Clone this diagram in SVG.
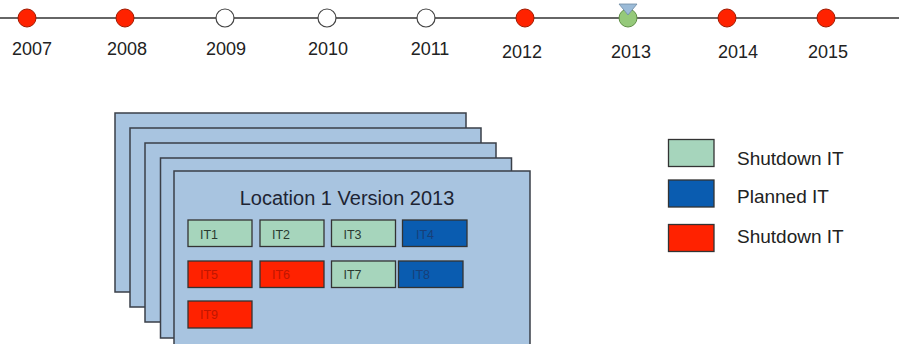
<svg xmlns="http://www.w3.org/2000/svg" width="899" height="344" viewBox="0 0 899 344">
<style>
text{font-family:"Liberation Sans",Arial,sans-serif}
.yr{font-size:18px;fill:#222;text-anchor:middle}
.red{fill:#ff2200;stroke:#a01a00;stroke-width:1}
.wht{fill:#fff;stroke:#444;stroke-width:1.2}
.sheet{fill:#a8c4e0;stroke:#3a3f48;stroke-width:1.5}
.box{stroke:#333;stroke-width:1.3}
.g{fill:#a6d5bc}
.b{fill:#0a5cb0}
.r{fill:#ff2200}
.it{font-size:12.5px}
.tg{fill:#2a3a30}
.tb{fill:#173f78}
.tr{fill:#c01600}
.leg{font-size:19px;fill:#222}
</style>
<rect width="899" height="344" fill="#fff"/>
<g id="connectors">
<line x1="0" y1="18" x2="899" y2="18" stroke="#333" stroke-width="1.5"/>
</g>
<g id="y2007"><circle cx="27" cy="18" r="9" class="red"/><text x="32" y="55" class="yr">2007</text></g>
<g id="y2008"><circle cx="125" cy="18" r="9" class="red"/><text x="127" y="55" class="yr">2008</text></g>
<g id="y2009"><circle cx="225" cy="18" r="9" class="wht"/><text x="226" y="55" class="yr">2009</text></g>
<g id="y2010"><circle cx="327" cy="18" r="9" class="wht"/><text x="328" y="55" class="yr">2010</text></g>
<g id="y2011"><circle cx="426" cy="18" r="9" class="wht"/><text x="430" y="55" class="yr">2011</text></g>
<g id="y2012"><circle cx="525" cy="18" r="9" class="red"/><text x="522" y="58" class="yr">2012</text></g>
<g id="y2013"><circle cx="628" cy="18" r="9" fill="#95c97a" stroke="#5f8f45" stroke-width="1"/><polygon points="619,4 637,4 628,15" fill="#9bbbd8" stroke="#6f8aa3" stroke-width="0.8"/><text x="631" y="58" class="yr">2013</text></g>
<g id="y2014"><circle cx="727" cy="18" r="9" class="red"/><text x="738" y="58" class="yr">2014</text></g>
<g id="y2015"><circle cx="826" cy="18" r="9" class="red"/><text x="828" y="58" class="yr">2015</text></g>

<g id="sheets">
<rect x="115" y="113" width="351" height="179" class="sheet"/>
<rect x="130" y="128" width="351" height="179" class="sheet"/>
<rect x="145" y="143" width="351" height="179" class="sheet"/>
<rect x="160.5" y="158" width="351" height="180" class="sheet"/>
</g>
<g id="location1">
<rect x="174" y="171" width="356" height="180" class="sheet"/>
<text x="347" y="205" font-size="20" fill="#1e2433" text-anchor="middle">Location 1 Version 2013</text>
</g>
<g id="IT1"><rect x="188" y="220" width="64" height="26.5" class="box g"/><text x="200" y="239" class="it tg">IT1</text></g>
<g id="IT2"><rect x="260" y="220" width="64" height="26.5" class="box g"/><text x="272" y="239" class="it tg">IT2</text></g>
<g id="IT3"><rect x="331.5" y="220" width="64" height="26.5" class="box g"/><text x="343.5" y="239" class="it tg">IT3</text></g>
<g id="IT4"><rect x="402.5" y="220" width="64.5" height="26.5" class="box b"/><text x="416" y="239" class="it tb">IT4</text></g>
<g id="IT5"><rect x="188" y="261" width="64" height="26.5" class="box r"/><text x="200" y="279" class="it tr">IT5</text></g>
<g id="IT6"><rect x="260" y="261" width="64" height="26.5" class="box r"/><text x="272" y="279" class="it tr">IT6</text></g>
<g id="IT7"><rect x="331.5" y="261" width="64" height="26.5" class="box g"/><text x="343.5" y="279" class="it tg">IT7</text></g>
<g id="IT8"><rect x="398.5" y="261" width="64.5" height="26.5" class="box b"/><text x="412" y="279" class="it tb">IT8</text></g>
<g id="IT9"><rect x="188" y="301" width="64" height="27" class="box r"/><text x="200" y="319" class="it tr">IT9</text></g>

<g id="legend1"><rect x="668.5" y="139.5" width="45.5" height="27" class="box g"/><text x="737" y="165" class="leg">Shutdown IT</text></g>
<g id="legend2"><rect x="668.5" y="180" width="45.5" height="27" class="box b"/><text x="737" y="203" class="leg">Planned IT</text></g>
<g id="legend3"><rect x="668.5" y="224.5" width="45.5" height="27" class="box r"/><text x="737" y="243" class="leg">Shutdown IT</text></g>
</svg>
